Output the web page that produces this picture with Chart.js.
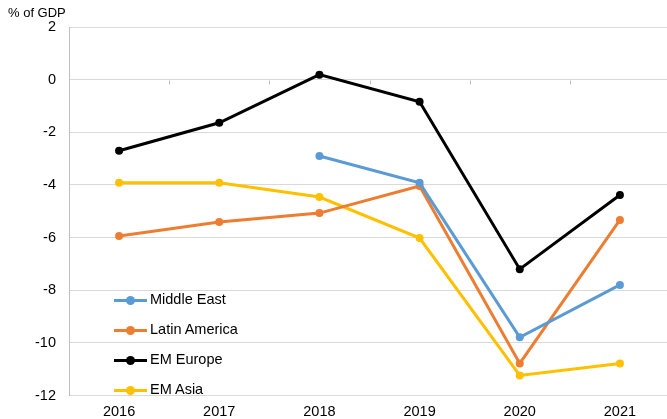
<!DOCTYPE html>
<html>
<head>
<meta charset="utf-8">
<script src="https://cdn.jsdelivr.net/npm/chart.js@4.4.0/dist/chart.umd.min.js"></script>
<style>
  body { margin: 0; background: #fff; }
  #wrap { position: relative; width: 667px; height: 419px; overflow: hidden; font-family: "Liberation Sans", Arial, sans-serif; }
  #unit { position: absolute; left: 8px; top: 5px; font-size: 13px; color: #000; }
  #legend { position: absolute; left: 114px; top: 291px; }
  .item { position: relative; height: 30px; line-height: 18px; font-size: 14.5px; color: #000; }
  .swatch { position: absolute; left: 0; top: 8px; width: 33px; height: 3px; }
  .dot { position: absolute; left: 12px; top: -3px; width: 9px; height: 9px; border-radius: 50%; }
  .label { position: absolute; left: 36px; top: -1px; white-space: nowrap; }
</style>
</head>
<body>
<div id="wrap">
  <canvas id="chart" width="674" height="419"></canvas>
  <div id="unit">% of GDP</div>
  <div id="legend"></div>
</div>
<script>
const years = ["2016", "2017", "2018", "2019", "2020", "2021"];
const middleEast   = [null, null, -2.9, -3.92, -9.79, -7.8];
const latinAmerica = [-5.94, -5.41, -5.07, -4.04, -10.78, -5.33];
const emEurope     = [-2.7, -1.64, 0.19, -0.84, -7.2, -4.38];
const emAsia       = [-3.92, -3.92, -4.46, -6.02, -11.24, -10.78];
const yTicks = [2, 0, -2, -4, -6, -8, -10, -12];

const series = [
  { label: "Middle East", data: middleEast, color: "#5B9BD5" },
  { label: "Latin America", data: latinAmerica, color: "#ED7D31" },
  { label: "EM Europe", data: emEurope, color: "#000000" },
  { label: "EM Asia", data: emAsia, color: "#FFC000" }
];

// legend as html so the text stays real text
const legend = document.getElementById("legend");
series.forEach(s => {
  const row = document.createElement("div");
  row.className = "item";
  row.innerHTML = `<span class="swatch" style="background:${s.color}"><span class="dot" style="background:${s.color}"></span></span><span class="label">${s.label}</span>`;
  legend.appendChild(row);
});

// small tick marks on the category axis, which crosses at zero
const zeroTicks = {
  id: "zeroTicks",
  afterDraw(chart) {
    const x = chart.scales.x, y = chart.scales.y;
    const ctx = chart.ctx;
    const y0 = Math.round(y.getPixelForValue(0)) + 0.5;
    const step = (x.right - x.left) / years.length;
    ctx.save();
    ctx.strokeStyle = "#bfbfbf";
    ctx.lineWidth = 1;
    for (let i = 1; i < years.length; i++) {
      const px = Math.round(x.left + step * i) + 0.5;
      ctx.beginPath();
      ctx.moveTo(px, y0);
      ctx.lineTo(px, y0 + 4);
      ctx.stroke();
    }
    ctx.restore();
  }
};

const tickFont = { family: "Liberation Sans", size: 14.5 };

new Chart(document.getElementById("chart"), {
  type: "line",
  data: {
    labels: years,
    datasets: series.map(s => ({
      label: s.label,
      data: s.data,
      borderColor: s.color,
      backgroundColor: s.color,
      borderWidth: 3,
      pointRadius: 4,
      pointHoverRadius: 4,
      pointBorderWidth: 0,
      tension: 0,
      spanGaps: false
    }))
  },
  options: {
    responsive: false,
    animation: false,
    layout: { padding: { top: 27, right: 0, left: 0, bottom: 0 } },
    plugins: { legend: { display: false }, tooltip: { enabled: false } },
    scales: {
      x: {
        offset: true,
        grid: { display: false, drawTicks: false },
        border: { color: "#d9d9d9" },
        ticks: { color: "#000", font: tickFont, padding: 8, maxRotation: 0 },
        afterFit: s => { s.height = 23.5; }
      },
      y: {
        min: -12,
        max: 2,
        afterBuildTicks: s => { s.ticks = yTicks.map(v => ({ value: v })); },
        grid: { color: "#d9d9d9", lineWidth: 1, drawTicks: false },
        border: { color: "#bfbfbf" },
        ticks: { color: "#000", font: tickFont, padding: 13 },
        afterFit: s => { s.width = 69; }
      }
    }
  },
  plugins: [zeroTicks]
});
</script>
</body>
</html>
